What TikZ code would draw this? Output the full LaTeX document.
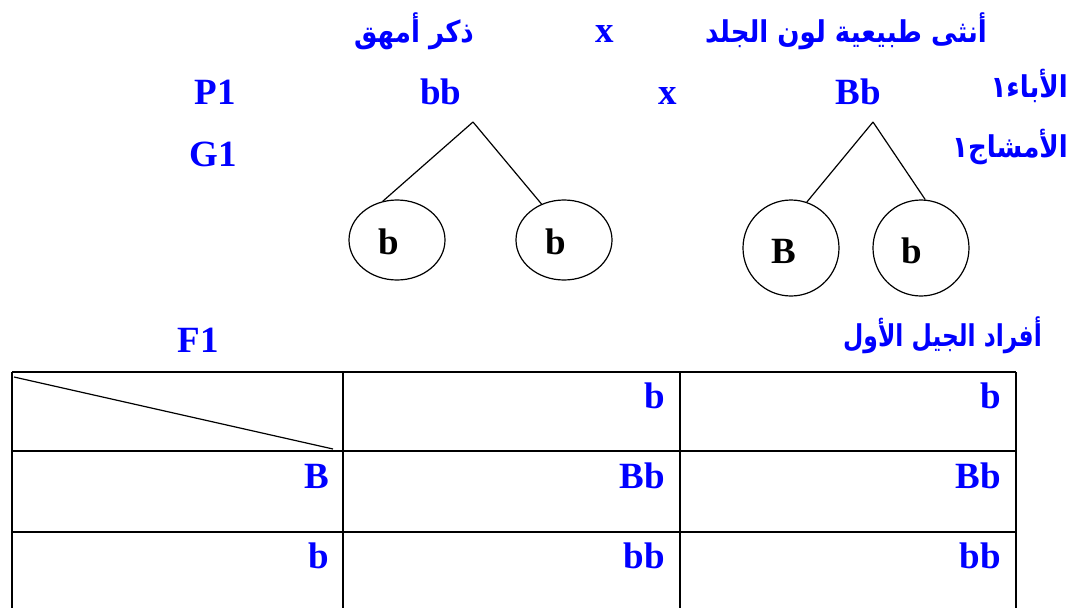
\documentclass[tikz,border=0pt]{standalone}
\usepackage{fontspec}
\setmainfont{Liberation Serif}
\newfontfamily\arabicfont[Script=Arabic,FakeStretch=0.87]{DejaVu Sans}
\newfontfamily\arabicschmal[Script=Arabic,FakeStretch=0.78]{DejaVu Sans}
\TeXXeTstate=1
\usetikzlibrary{shapes.geometric}
\definecolor{blau}{HTML}{0000FF}
\tikzset{
  lat/.style={font=\fontsize{37}{40}\selectfont\bfseries,text=blau,inner sep=0pt,anchor=base},
  zelle/.style={lat,anchor=base east},
  arab/.style={font=\fontsize{30}{34}\selectfont\arabicfont\bfseries,text=blau,inner sep=0pt,anchor=base},
  gamet/.style={ellipse,draw,line width=1.2pt,inner sep=0pt,minimum width=96pt},
  buchst/.style={font=\fontsize{37}{40}\selectfont\bfseries,inner sep=0pt},
  ast/.style={line width=1.2pt},
  gitter/.style={line width=1.5pt},
}

\begin{document}
\begin{tikzpicture}[x=1pt,y=-1pt]
  \useasboundingbox (0,0) rectangle (1074,608);
  % Kreuzung
  \node[arab] (maennl) at (414,42) {\beginR ذكر أمهق\endR};
  \node[lat] (kreuz0) at (605,42) {x};
  \node[arab] (weibl) at (846,42) {\beginR أنثى طبيعية لون الجلد\endR};
  \node[lat] (p1) at (215,104) {P1};
  \node[lat] (elt1) at (441,104) {bb};
  \node[lat] (kreuz1) at (668,104) {x};
  \node[lat] (elt2) at (858,104) {Bb};
  \node[arab,anchor=base east] (aba) at (1068,97) {\beginR الأباء١\endR};
  \node[lat] (g1) at (213,166) {G1};
  \node[arab,anchor=base east] (amshaj) at (1068,157) {\beginR الأمشاج١\endR};
  % Gameten
  \coordinate (spitzeL) at (473,122);
  \coordinate (spitzeR) at (873,122);
  \node[gamet,minimum height=80pt,label={[buchst,xshift=-8pt,yshift=-2pt]center:b}] (ga) at (397,240) {};
  \node[gamet,minimum height=80pt,label={[buchst,xshift=-8pt,yshift=-2pt]center:b}] (gb) at (564,240) {};
  \node[gamet,minimum height=96pt,label={[buchst,xshift=-7pt,yshift=-3pt]center:B}] (gc) at (791,248) {};
  \node[gamet,minimum height=96pt,label={[buchst,xshift=-9pt,yshift=-3pt]center:b}] (gd) at (921,248) {};
  \draw[ast] (spitzeL) -- (ga.110);
  \draw[ast] (spitzeL) -- (gb.122);
  \draw[ast] (spitzeR) -- (gc.71);
  \draw[ast] (spitzeR) -- (gd.85);
  % F1
  \node[lat] (f1) at (198,352) {F1};
  \node[arab,font=\fontsize{30}{34}\selectfont\arabicschmal\bfseries,anchor=base east] (afrad) at (1042,346) {\beginR أفراد الجيل الأول\endR};
  \draw[gitter] (12,372) -- (1016,372);
  \draw[gitter] (12,451) -- (1016,451);
  \draw[gitter] (12,532) -- (1016,532);
  \draw[gitter] (12,372) -- (12,608);
  \draw[gitter] (343,372) -- (343,608);
  \draw[gitter] (680,372) -- (680,608);
  \draw[gitter] (1016,372) -- (1016,608);
  \draw[ast] (14,377) -- (333,449);
  \node[zelle] (t12) at (665,408) {b};
  \node[zelle] (t13) at (1001,408) {b};
  \node[zelle] (t21) at (329,488) {B};
  \node[zelle] (t22) at (665,488) {Bb};
  \node[zelle] (t23) at (1001,488) {Bb};
  \node[zelle] (t31) at (329,568) {b};
  \node[zelle] (t32) at (665,568) {bb};
  \node[zelle] (t33) at (1001,568) {bb};
\end{tikzpicture}
\end{document}
